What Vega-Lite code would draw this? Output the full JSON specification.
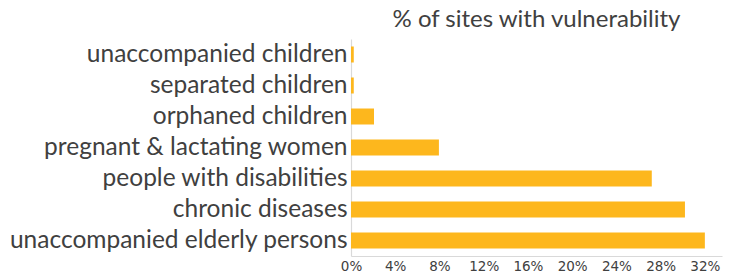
{
  "$schema": "https://vega.github.io/schema/vega-lite/v6.json",
  "autosize": {"type": "none"},
  "width": 371,
  "height": 217,
  "padding": {"left": 351, "top": 39, "right": 14, "bottom": 18},
  "background": "white",
  "title": {
    "text": "% of sites with vulnerability",
    "font": "Lato",
    "fontSize": 24,
    "fontWeight": "normal",
    "color": "#404040",
    "anchor": "middle",
    "offset": 7
  },
  "data": {
    "values": [
      {"category": "unaccompanied children", "pct": 0.0025},
      {"category": "separated children", "pct": 0.0025},
      {"category": "orphaned children", "pct": 0.0208},
      {"category": "pregnant & lactating women", "pct": 0.0795},
      {"category": "people with disabilities", "pct": 0.272},
      {"category": "chronic diseases", "pct": 0.302},
      {"category": "unaccompanied elderly persons", "pct": 0.32}
    ]
  },
  "mark": {"type": "bar", "color": "#FDB71D"},
  "encoding": {
    "y": {
      "field": "category",
      "type": "nominal",
      "sort": null,
      "scale": {"paddingInner": 0.484, "paddingOuter": 0.242},
      "axis": {
        "title": null,
        "ticks": false,
        "labelFont": "Lato",
        "labelFontSize": 24.5,
        "labelColor": "#404040",
        "labelPadding": 4,
        "labelLimit": 400,
        "domainColor": "#D9D9D9",
        "domainWidth": 1.2
      }
    },
    "x": {
      "field": "pct",
      "type": "quantitative",
      "scale": {"domain": [0, 0.3355], "nice": false},
      "axis": {
        "title": null,
        "format": ".0%",
        "values": [0, 0.04, 0.08, 0.12, 0.16, 0.2, 0.24, 0.28, 0.32],
        "grid": false,
        "ticks": false,
        "labelFont": "DejaVu Sans",
        "labelFontSize": 13.5,
        "labelColor": "#404040",
        "labelPadding": 3,
        "labelFlush": false,
        "domainColor": "#D9D9D9",
        "domainWidth": 1.2
      }
    }
  },
  "config": {"view": {"stroke": null}}
}
